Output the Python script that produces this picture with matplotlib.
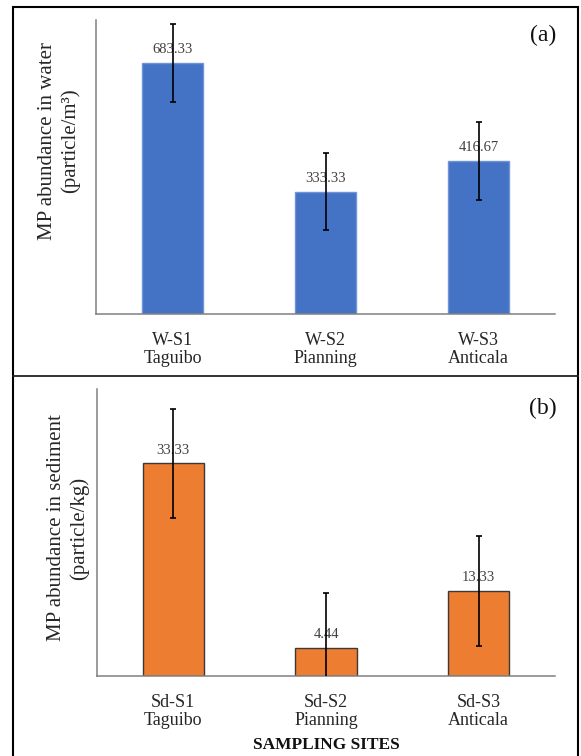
import matplotlib
matplotlib.use("Agg")
import matplotlib.pyplot as plt
from matplotlib.patches import Rectangle
from matplotlib.lines import Line2D

plt.rcParams['font.family'] = ['Liberation Serif', 'DejaVu Serif']

# Data
water_sites = ["W-S1\nTaguibo", "W-S2\nPianning", "W-S3\nAnticala"]
water_values = [683.33, 333.33, 416.67]
water_err = [106, 105, 106]
water_labels = ["683.33", "333.33", "416.67"]

sed_sites = ["Sd-S1\nTaguibo", "Sd-S2\nPianning", "Sd-S3\nAnticala"]
sed_values = [33.33, 4.44, 13.33]
sed_err = [8.56, 8.5, 8.56]
sed_labels = ["33.33", "4.44", "13.33"]

W, H = 581, 756
fig = plt.figure(figsize=(W / 100, H / 100), dpi=100)

def fx(px):
    return px / W

def fy(py):
    return 1 - py / H

axis_col = '#808080'
text_col = '#262626'

def panel(rect, sites, values, err, labels, color, edge, ylim):
    ax = fig.add_axes(rect)
    x = list(range(len(values)))
    ax.bar(x, values, width=0.4, color=color, edgecolor=edge, linewidth=1.0, zorder=1)
    ax.errorbar(x, values, yerr=err, fmt='none', ecolor='black', elinewidth=1.2,
                capsize=2.2, capthick=1.2, zorder=3)
    for xi, v, lab in zip(x, values, labels):
        ax.annotate(lab, (xi, v), xytext=(0, 7), textcoords='offset points',
                    ha='center', va='baseline', fontsize=10.5, color='#404040', zorder=2)
    ax.set_xlim(-0.5, 2.5)
    ax.set_ylim(*ylim)
    ax.set_xticks(x)
    ax.set_xticklabels(sites, fontsize=13, color=text_col, linespacing=1.1)
    ax.set_yticks([])
    ax.tick_params(axis='x', length=0, pad=13)
    for s in ['top', 'right']:
        ax.spines[s].set_visible(False)
    for s in ['left', 'bottom']:
        ax.spines[s].set_color(axis_col)
        ax.spines[s].set_linewidth(1.1)
    ax.patch.set_alpha(0)
    return ax

ax1 = panel([fx(96), fy(314), fx(555) - fx(96), fy(20) - fy(314)],
            water_sites, water_values, water_err, water_labels,
            '#4472C4', '#6f95d8', (0, 800))
ax2 = panel([fx(97), fy(676), fx(555) - fx(97), fy(389) - fy(676)],
            sed_sites, sed_values, sed_err, sed_labels,
            '#ED7D31', '#3a3a3a', (0, 45))

fig.text(fx(59), fy(141), "MP abundance in water\n(particle/m³)", rotation=90,
         ha='center', va='center', multialignment='center', fontsize=15,
         color=text_col, linespacing=1.2)
fig.text(fx(68), fy(528), "MP abundance in sediment\n(particle/kg)", rotation=90,
         ha='center', va='center', multialignment='center', fontsize=15,
         color=text_col, linespacing=1.25)

fig.text(fx(543), fy(35), "(a)", ha='center', va='center', fontsize=17, color='#111111')
fig.text(fx(543), fy(408), "(b)", ha='center', va='center', fontsize=17, color='#111111')

fig.text(fx(326), fy(745), "SAMPLING SITES", ha='center', va='center', fontsize=12.5,
         fontweight='bold', color='#111111')

# Outer frame and separator
fig.add_artist(Rectangle((fx(13), fy(760)), fx(578) - fx(13), fy(7) - fy(760),
                         transform=fig.transFigure, fill=False, edgecolor='black',
                         linewidth=1.5, clip_on=False))
fig.add_artist(Line2D([fx(13), fx(578)], [fy(376), fy(376)], transform=fig.transFigure,
                      color='#222222', linewidth=1.3))

fig.savefig("out.png", dpi=100)
